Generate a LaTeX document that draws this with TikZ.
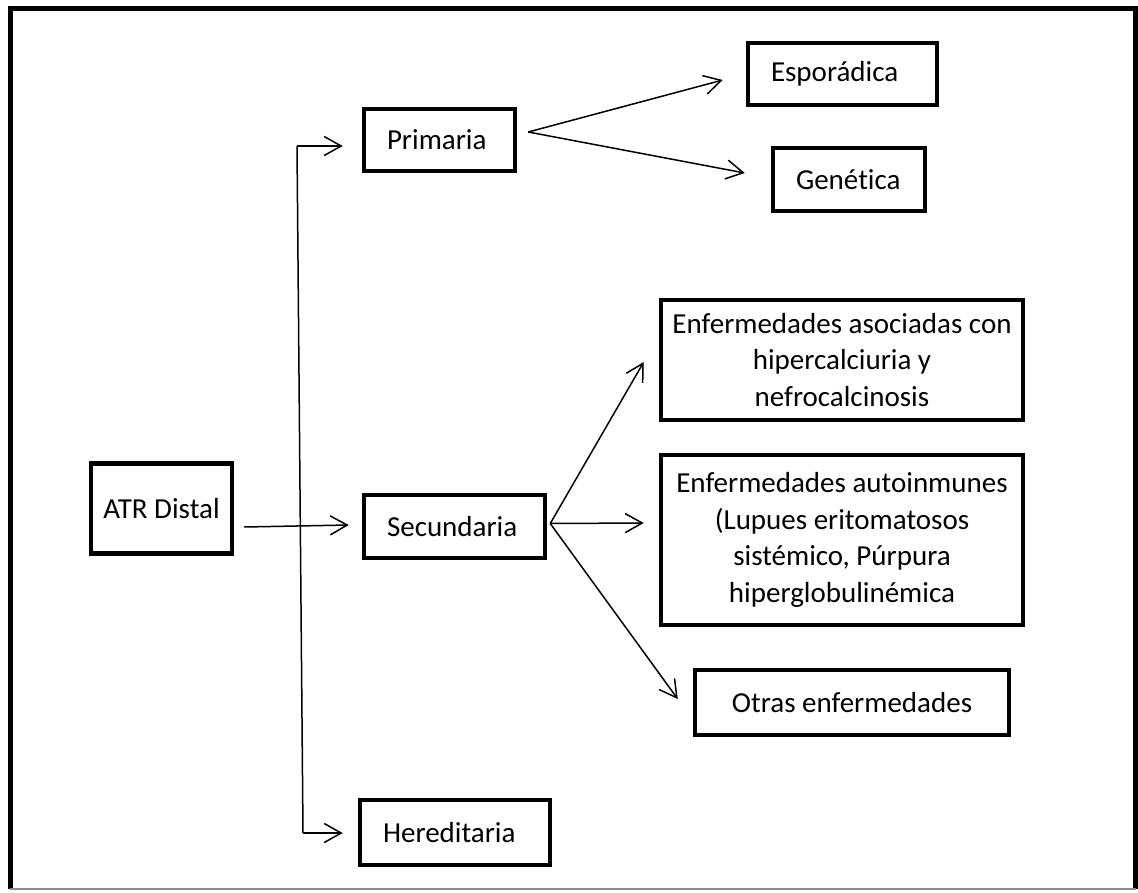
\documentclass[tikz,border=0pt]{standalone}
\usepackage{fontspec}
\setmainfont{Carlito}[Ligatures=NoCommon]
\usetikzlibrary{arrows.meta,calc}
\begin{document}
\begin{tikzpicture}[x=1pt,y=-1pt,
  box/.style={draw, line width=4.5pt, rectangle, inner sep=0pt, align=center, font=\fontsize{29}{36.5}\selectfont},
  lbox/.style={box, align=left, text width=#1},
  arr/.style={line width=1.5pt, -{Straight Barb[length=17pt,width=19pt]}},
  conn/.style={line width=1.5pt},
  frame/.style={line width=5pt}]
\useasboundingbox (0,0) rectangle (1138,892);
% frame
\draw[frame] (10.5,889) -- (10.5,8.5) -- (1135.5,8.5) -- (1135.5,889);
\draw[line width=1.2pt, black!45] (10,889) -- (1136,889);
% nodes
\node[box, minimum width=141pt, minimum height=90pt] (atr) at (161.5,508.5) {ATR Distal};
\node[lbox=105pt, minimum width=151pt, minimum height=62pt] (prim) at (439.5,140) {Primaria};
\node[lbox=143pt, minimum width=189pt, minimum height=62pt] (spor) at (842.5,74) {Esporádica};
\node[lbox=106pt, minimum width=152pt, minimum height=63pt] (gen) at (849,179.5) {Genética};
\node[lbox=135pt, minimum width=181pt, minimum height=63pt] (sec) at (454.5,526.5) {Secundaria};
\node[lbox=144pt, minimum width=190pt, minimum height=65pt] (her) at (455,832.5) {Hereditaria};
\node[box, minimum width=362pt, minimum height=120pt] (asoc) at (842,360) {Enfermedades asociadas con\\hipercalciuria y\\nefrocalcinosis};
\node[box, minimum width=362pt, minimum height=170pt] (auto) at (842,540) {Enfermedades autoinmunes\\(Lupues eritomatosos\\sistémico, Púrpura\\hiperglobulinémica};
\node[box, minimum width=314pt, minimum height=65pt] (otras) at (852,702.5) {Otras enfermedades};
% connectors
\coordinate (vtop) at (297,146);
\coordinate (vbot) at (303,833);
\draw[conn] (vtop) -- (vbot);
\draw[arr, shorten >=19pt] (vtop) -- (vtop -| prim.west);
\draw[arr, shorten >=15pt] (vbot) -- (vbot -| her.west);
\draw[arr] ($(atr.east)+(10,18.5)$) -- ($(sec.west)+(-13,-1.5)$);
\coordinate (pf) at ($(prim.east)+(11,-8)$);
\draw[arr] (pf) -- ($(spor.west)+(-23,6)$);
\draw[arr] (pf) -- ($(gen.west)+(-26,-6.5)$);
\coordinate (sf) at ($(sec.east)+(3,-3)$);
\draw[arr] (sf) -- ($(asoc.west)+(-15,2)$);
\draw[arr] (sf) -- ($(auto.west)+(-15,-17)$);
\draw[arr] (sf) -- ($(otras.west)+(-15,-3.5)$);
\end{tikzpicture}
\end{document}
